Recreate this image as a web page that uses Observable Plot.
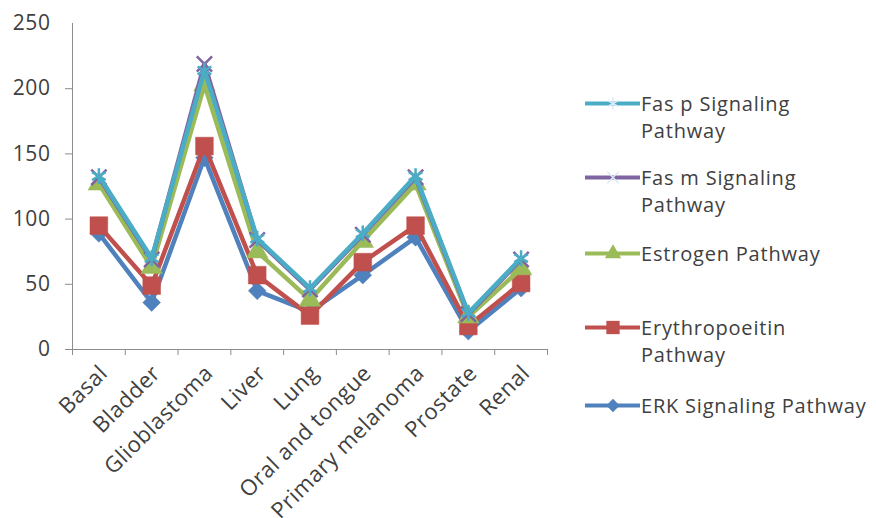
<!DOCTYPE html>
<html><head><meta charset="utf-8">
<script src="https://cdn.jsdelivr.net/npm/d3@7"></script>
<script src="https://cdn.jsdelivr.net/npm/@observablehq/plot@0.6"></script>
<style>
body{margin:0;background:#fff;}
#wrap{position:relative;width:876px;height:518px;font-family:"Open Sans",sans-serif;}
.leg{position:absolute;left:585px;display:flex;align-items:flex-start;}
.leg svg{flex:none;}
.leg span{font-size:20px;line-height:27px;color:#404040;letter-spacing:0.8px;white-space:nowrap;}
</style></head><body><div id="wrap"></div>
<script>
const categories = ["Basal","Bladder","Glioblastoma","Liver","Lung","Oral and tongue","Primary melanoma","Prostate","Renal"];
const seriesNames = ["ERK Signaling Pathway","Erythropoeitin Pathway","Estrogen Pathway","Fas m Signaling Pathway","Fas p Signaling Pathway"];
const erk      = [89, 36, 147, 45, 29, 57, 86, 14, 47];
const erythro  = [95, 49, 156, 57, 26, 67, 95, 18, 51];
const estrogen = [127, 63, 203, 75, 38, 83, 127, 25, 62];
const fasM     = [132, 69, 219, 84, 46, 88, 132, 27, 69];
const fasP     = [133, 70, 214, 85, 47, 89, 133, 28, 70];
const yTicks = [0, 50, 100, 150, 200, 250];
const legendLabels = [["Fas p Signaling","Pathway"],["Fas m Signaling","Pathway"],["Estrogen Pathway"],["Erythropoeitin","Pathway"],["ERK Signaling Pathway"]];

const seriesValues = [erk, erythro, estrogen, fasM, fasP];
const colors = ["#4F81BD", "#C0504D", "#9BBB59", "#8064A2", "#4BACC6"];
const symbols = ["diamond2", "square", "triangle", "times", "asterisk"];
const radii = [8, 10, 8, 7, 7.5];
const filled = [true, true, true, false, false];

const rows = [];
seriesNames.forEach((s, k) => seriesValues[k].forEach((v, i) => rows.push({i, v, s})));

const axisColor = "#8c8c8c";
const marks = [
  Plot.ruleX([-0.5], {y1: 0, y2: 250, stroke: axisColor}),
  Plot.ruleY([0], {stroke: axisColor}),
  Plot.axisY({ticks: yTicks, tickSize: 0, tickPadding: 22, fontSize: 21, fill: "#404040", label: null}),
  Plot.axisY({ticks: yTicks.slice(0, 5), tickSize: 7, tickFormat: () => "", stroke: axisColor, label: null}),
  Plot.axisX({ticks: d3.range(-0.5, 9, 1), tickSize: 6, tickFormat: () => "", stroke: axisColor, label: null}),
  Plot.axisX({ticks: d3.range(0, 9), tickSize: 0, tickPadding: 8, tickRotate: -45, fontSize: 22, fill: "#404040",
    dx: 5, dy: 12, label: null, tickFormat: i => categories[i]})
];
seriesNames.forEach((s, k) => {
  const d = rows.filter(r => r.s === s);
  marks.push(Plot.line(d, {x: "i", y: "v", stroke: colors[k], strokeWidth: 4.5, strokeLinejoin: "round"}));
  marks.push(Plot.dot(d, {x: "i", y: "v", symbol: symbols[k], r: radii[k],
    fill: filled[k] ? colors[k] : "none", stroke: colors[k], strokeWidth: filled[k] ? 0.5 : 2.5}));
});

const chart = Plot.plot({
  width: 876, height: 518,
  marginLeft: 72, marginRight: 329, marginTop: 23, marginBottom: 169,
  style: {fontFamily: "'Open Sans', sans-serif", background: "#fff", letterSpacing: "0.6px"},
  x: {type: "linear", domain: [-0.5, 8.5], axis: null, label: null},
  y: {domain: [0, 250], axis: null, label: null},
  marks
});
const wrap = document.getElementById("wrap");
wrap.appendChild(chart);

// legend
const legendCenters = [103, 177, 253, 327, 405];
const legendOrder = [4, 3, 2, 1, 0];
const symMap = {diamond2: d3.symbolDiamond2, square: d3.symbolSquare, triangle: d3.symbolTriangle, times: d3.symbolTimes, asterisk: d3.symbolAsterisk};
legendOrder.forEach((k, n) => {
  const div = document.createElement("div");
  div.className = "leg";
  div.style.top = (legendCenters[n] - 13.5) + "px";
  const sw = d3.create("svg").attr("width", 56).attr("height", 27);
  sw.append("line").attr("x1", 0).attr("x2", 55).attr("y1", 13.5).attr("y2", 13.5)
    .attr("stroke", colors[k]).attr("stroke-width", 4);
  const rr = radii[k] * 0.75;
  sw.append("path").attr("transform", "translate(28,13.5)")
    .attr("d", d3.symbol(symMap[symbols[k]], Math.PI * rr * rr)())
    .attr("fill", filled[k] ? colors[k] : "none").attr("stroke", filled[k] ? "none" : "#dbe8f5")
    .attr("stroke-width", 1.5);
  div.appendChild(sw.node());
  const span = document.createElement("span");
  span.innerHTML = legendLabels[n].join("<br>");
  div.appendChild(span);
  wrap.appendChild(div);
});
</script></body></html>
